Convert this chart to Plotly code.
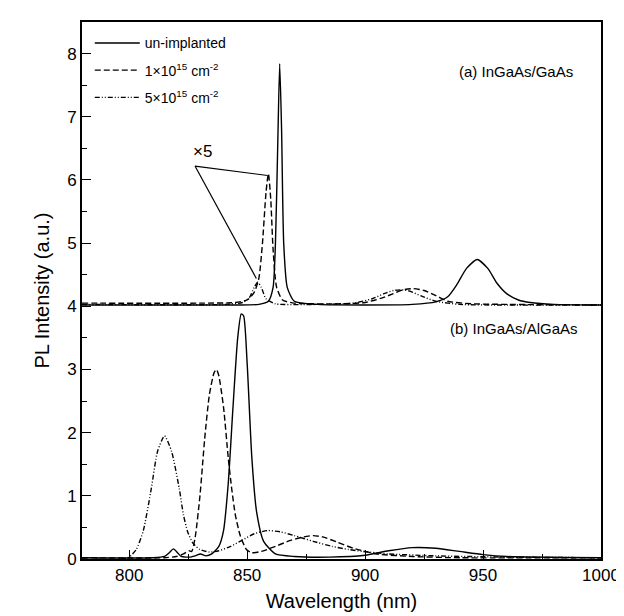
import plotly.graph_objects as go

# ---------------- data ----------------
# Panel (a) InGaAs/GaAs, offset by 4 on the intensity axis
a_un_wl = [780, 820, 845, 855, 859, 861, 862, 863, 863.8, 864.6, 865.5, 867, 870, 880, 900, 920, 930, 935, 939, 943, 947.5, 952, 956, 960, 965, 970, 980, 1000]
a_un_pl = [4.02, 4.02, 4.02, 4.03, 4.08, 4.3, 5.0, 6.6, 7.84, 6.8, 5.0, 4.3, 4.08, 4.03, 4.02, 4.03, 4.07, 4.15, 4.35, 4.6, 4.74, 4.6, 4.36, 4.2, 4.1, 4.06, 4.03, 4.02]

a_d1_wl = [780, 830, 845, 850, 853, 855, 856.5, 858, 859, 860, 861, 862.5, 865, 870, 890, 900, 907, 912, 916, 920.5, 925, 930, 935, 945, 960, 1000]
a_d1_pl = [4.05, 4.05, 4.06, 4.1, 4.22, 4.45, 5.0, 5.8, 6.1, 5.7, 4.9, 4.3, 4.1, 4.05, 4.04, 4.06, 4.13, 4.2, 4.26, 4.28, 4.25, 4.17, 4.08, 4.04, 4.03, 4.02]

a_d5_wl = [780, 840, 848, 851, 853, 854.5, 856, 858, 862, 880, 895, 903, 908, 912, 915.5, 919, 924, 930, 940, 960, 1000]
a_d5_pl = [4.03, 4.03, 4.06, 4.14, 4.3, 4.38, 4.3, 4.12, 4.04, 4.03, 4.05, 4.12, 4.2, 4.25, 4.26, 4.24, 4.16, 4.08, 4.03, 4.02, 4.02]

# Panel (b) InGaAs/AlGaAs
b_un_wl = [780, 810, 815, 817, 818.7, 820.5, 822, 826, 828, 830.2, 832.5, 835, 838, 840, 842, 844, 846, 847.5, 848.5, 850, 852, 854, 857, 862, 870, 885, 900, 910, 920, 930, 940, 950, 960, 1000]
b_un_pl = [0.02, 0.02, 0.04, 0.1, 0.16, 0.1, 0.04, 0.03, 0.05, 0.08, 0.05, 0.08, 0.2, 0.45, 1.2, 2.4, 3.5, 3.88, 3.85, 3.1, 1.6, 0.75, 0.28, 0.08, 0.04, 0.03, 0.06, 0.13, 0.18, 0.17, 0.12, 0.07, 0.04, 0.02]

b_d1_wl = [780, 815, 820, 823, 825.3, 826.5, 828, 830, 832, 834, 836, 837, 838, 840, 842, 843.5, 845, 847, 849.7, 852, 856, 862, 868, 874, 878, 882, 888, 895, 905, 920, 940, 1000]
b_d1_pl = [0.02, 0.02, 0.04, 0.08, 0.13, 0.12, 0.35, 1.0, 1.9, 2.6, 2.95, 3.0, 2.9, 2.4, 1.6, 1.1, 0.7, 0.38, 0.15, 0.1, 0.12, 0.2, 0.29, 0.35, 0.37, 0.35, 0.27, 0.17, 0.08, 0.04, 0.02, 0.02]

b_d5_wl = [780, 797, 800, 803, 806, 809.4, 812, 815, 818, 821.2, 823, 824.7, 827, 830, 834, 838, 843, 848, 853, 858.7, 864, 870, 878, 886, 893, 899, 910, 930, 960, 1000]
b_d5_pl = [0.0, 0.0, 0.03, 0.15, 0.45, 1.12, 1.7, 1.95, 1.7, 1.12, 0.7, 0.44, 0.25, 0.15, 0.11, 0.13, 0.2, 0.3, 0.4, 0.45, 0.43, 0.37, 0.28, 0.2, 0.15, 0.12, 0.08, 0.05, 0.03, 0.02]

series_names = ["un-implanted", "1\u00d710<sup>15</sup> cm<sup>-2</sup>", "5\u00d710<sup>15</sup> cm<sup>-2</sup>"]

# "x5" pointer: label position and the two peaks it points to
x5_label = (831, 6.45)
x5_origin = (827.9, 6.22)
x5_targets = [(858.7, 6.07), (853.9, 4.44)]

panel_labels = ["(a) InGaAs/GaAs", "(b) InGaAs/AlGaAs"]
panel_label_pos = [(989, 7.72), (991, 3.65)]

x_ticks = [800, 850, 900, 950, 1000]
y_ticks = [0, 1, 2, 3, 4, 5, 6, 7, 8]

# ---------------- figure ----------------
FONT = "Liberation Sans, Arial, sans-serif"
dashes = ["solid", "6px,3px", "5px,2px,1px,2px,1px,2px"]

fig = go.Figure()
panels = [
    [(a_un_wl, a_un_pl), (a_d1_wl, a_d1_pl), (a_d5_wl, a_d5_pl)],
    [(b_un_wl, b_un_pl), (b_d1_wl, b_d1_pl), (b_d5_wl, b_d5_pl)],
]
for p, curves in enumerate(panels):
    for i, (wl, pl) in enumerate(curves):
        fig.add_trace(go.Scatter(
            x=wl, y=pl, mode="lines",
            line=dict(color="black", width=1.4, dash=dashes[i], shape="spline", smoothing=0.6),
            name=series_names[i], legendgroup=f"g{i}",
            showlegend=(p == 1),
        ))

# pointer lines for x5
for tx, ty in x5_targets:
    fig.add_trace(go.Scatter(
        x=[x5_origin[0], tx], y=[x5_origin[1], ty], mode="lines",
        line=dict(color="black", width=1.2), showlegend=False, hoverinfo="skip",
    ))

fig.add_annotation(x=x5_label[0], y=x5_label[1], text="\u00d75", showarrow=False,
                   font=dict(family=FONT, size=17, color="black"))
for txt, (px, py) in zip(panel_labels, panel_label_pos):
    fig.add_annotation(x=px, y=py, text=txt, showarrow=False, xanchor="right",
                       font=dict(family=FONT, size=15, color="black"))

axis_common = dict(
    showgrid=False, zeroline=False, showline=True, linecolor="black", linewidth=1.6,
    mirror=True, ticks="inside", ticklen=9, tickwidth=1.4, tickcolor="black",
    tickfont=dict(family=FONT, size=17, color="black"),
)
fig.update_xaxes(range=[780, 1000], tickvals=x_ticks,
                 minor=dict(dtick=25, ticks="inside", ticklen=5, tickcolor="black", tickwidth=1.2),
                 title=dict(text="Wavelength (nm)", font=dict(family=FONT, size=20, color="black"), standoff=10),
                 **axis_common)
fig.update_yaxes(range=[0, 8.5], tickvals=y_ticks,
                 minor=dict(dtick=0.5, ticks="inside", ticklen=5, tickcolor="black", tickwidth=1.2),
                 title=dict(text="PL Intensity (a.u.)", font=dict(family=FONT, size=20, color="black"), standoff=12),
                 **axis_common)

fig.update_layout(
    width=624, height=616,
    margin=dict(l=74, r=21, t=12, b=65),
    plot_bgcolor="white", paper_bgcolor="white",
    font=dict(family=FONT, color="black"),
    legend=dict(x=0.015, y=0.99, xanchor="left", yanchor="top", bgcolor="rgba(0,0,0,0)",
                font=dict(family=FONT, size=14, color="black"), tracegroupgap=6, itemwidth=45),
    showlegend=True,
)

fig.write_html("out.html")
